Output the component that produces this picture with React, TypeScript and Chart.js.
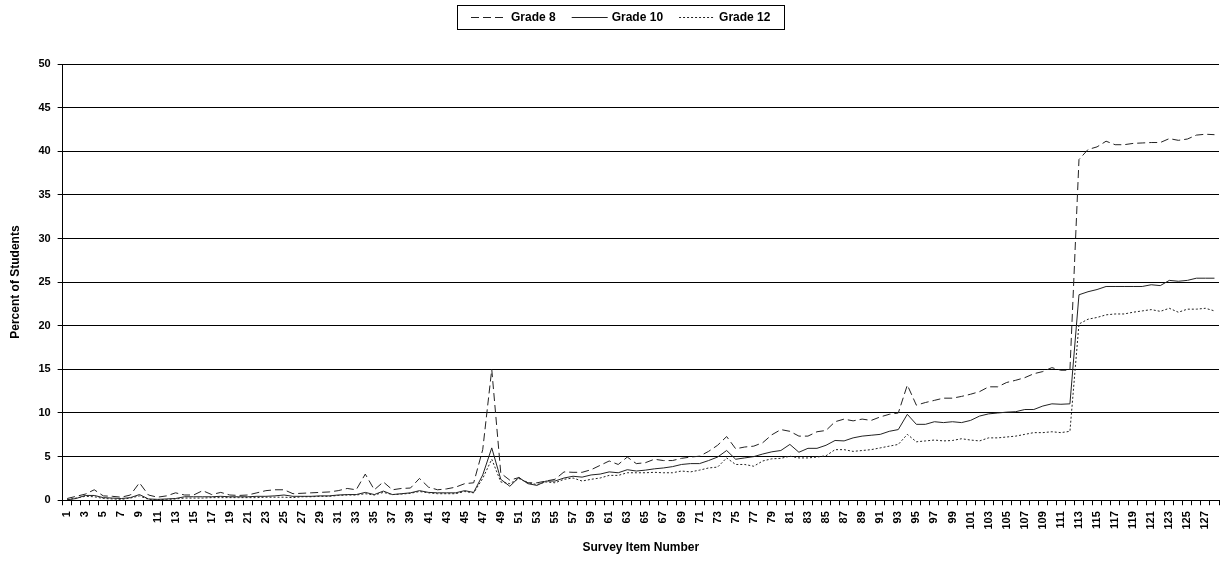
import React, { useEffect, useRef } from "react";
import { Chart, registerables } from "chart.js";

Chart.register(...registerables);

const itemNumbers: string[] = Array.from({ length: 128 }, (_, i) => String(i + 1));

const grade8: number[] = [
  0.2, 0.45, 0.7, 1.2, 0.5, 0.45, 0.35, 0.6, 2.0, 0.6, 0.35, 0.5, 0.85, 0.6, 0.6, 1.1, 0.65, 0.9, 0.6, 0.55, 0.6, 0.85, 1.1, 1.2, 1.2,
  0.75, 0.8, 0.85, 0.9, 0.95, 1.1, 1.35, 1.2, 3.0, 1.2, 2.1, 1.2, 1.35, 1.4, 2.5, 1.5, 1.2, 1.3, 1.5, 1.9, 2.0, 5.8, 15.0, 3.1, 2.3,
  2.6, 2.0, 2.0, 2.2, 2.4, 3.25, 3.2, 3.2, 3.5, 4.0, 4.5, 4.1, 4.95, 4.2, 4.3, 4.7, 4.55, 4.55, 4.8, 4.95, 5.05, 5.6, 6.3, 7.3, 5.9,
  6.1, 6.2, 6.6, 7.5, 8.1, 7.9, 7.35, 7.35, 7.85, 8.0, 9.0, 9.3, 9.1, 9.3, 9.15, 9.55, 9.85, 10.0, 13.2, 10.9, 11.2, 11.45, 11.7, 11.7, 11.9,
  12.15, 12.45, 13.0, 13.0, 13.5, 13.75, 14.05, 14.5, 14.75, 15.2, 14.9, 14.9, 39.05, 40.2, 40.5, 41.15, 40.75, 40.75, 40.9, 40.95, 41.0, 41.0, 41.45, 41.25, 41.4, 41.85, 41.95, 41.9,
];

const grade10: number[] = [
  0.05, 0.2, 0.55, 0.55, 0.3, 0.25, 0.2, 0.3, 0.65, 0.15, 0.1, 0.15, 0.2, 0.4, 0.4, 0.4, 0.4, 0.45, 0.4, 0.4, 0.4, 0.45, 0.45, 0.5, 0.6,
  0.45, 0.45, 0.45, 0.5, 0.5, 0.6, 0.65, 0.65, 0.9, 0.65, 1.05, 0.65, 0.75, 0.85, 1.1, 0.9, 0.85, 0.85, 0.85, 1.1, 0.9, 2.9, 6.0, 2.4, 1.6,
  2.6, 1.9, 1.7, 2.2, 2.2, 2.55, 2.75, 2.65, 2.9, 3.0, 3.25, 3.15, 3.5, 3.35, 3.45, 3.6, 3.7, 3.85, 4.1, 4.2, 4.2, 4.55, 4.95, 5.7, 4.7,
  4.85, 5.0, 5.3, 5.55, 5.7, 6.4, 5.5, 5.95, 5.95, 6.3, 6.85, 6.8, 7.15, 7.35, 7.45, 7.55, 7.9, 8.1, 9.85, 8.7, 8.7, 9.0, 8.9, 9.0, 8.9,
  9.15, 9.65, 9.9, 10.0, 10.1, 10.15, 10.4, 10.4, 10.8, 11.05, 11.0, 11.05, 23.55, 23.9, 24.15, 24.5, 24.5, 24.5, 24.5, 24.5, 24.7, 24.6, 25.2, 25.1, 25.2, 25.45, 25.45, 25.45,
];

const grade12: number[] = [
  0.05, 0.25, 0.45, 0.4, 0.2, 0.15, 0.1, 0.25, 0.5, 0.1, 0.05, 0.1, 0.15, 0.25, 0.25, 0.25, 0.3, 0.3, 0.3, 0.3, 0.3, 0.3, 0.35, 0.35, 0.35,
  0.3, 0.4, 0.4, 0.45, 0.45, 0.55, 0.6, 0.6, 0.75, 0.6, 0.9, 0.65, 0.7, 0.8, 1.0, 0.85, 0.75, 0.75, 0.75, 1.0, 0.85, 2.5, 4.7, 2.1, 1.9,
  2.5, 2.0, 1.8, 2.1, 2.0, 2.4, 2.55, 2.2, 2.4, 2.55, 2.85, 2.85, 3.15, 3.15, 3.15, 3.2, 3.15, 3.15, 3.35, 3.25, 3.45, 3.7, 3.8, 4.85, 4.1,
  4.1, 3.9, 4.5, 4.75, 4.8, 5.05, 4.85, 4.85, 4.95, 5.1, 5.8, 5.8, 5.6, 5.7, 5.8, 6.0, 6.2, 6.4, 7.55, 6.7, 6.8, 6.9, 6.8, 6.85, 7.05,
  6.9, 6.8, 7.15, 7.15, 7.25, 7.35, 7.55, 7.75, 7.75, 7.85, 7.75, 7.9, 20.2, 20.75, 20.95, 21.25, 21.35, 21.35, 21.55, 21.7, 21.85, 21.65, 22.0, 21.55, 21.9, 21.9, 22.0, 21.7,
];

const seriesNames: string[] = ["Grade 8", "Grade 10", "Grade 12"];

const FONT = '"Liberation Sans", Arial, Helvetica, sans-serif';

const legendBoxPlugin = {
  id: "legendBox",
  afterDraw(chart: any) {
    const ctx = chart.ctx as CanvasRenderingContext2D;
    const datasets = chart.data.datasets;
    ctx.save();
    ctx.font = `bold 12px ${FONT}`;
    const sample = 36;
    const gapText = 4;
    const gapItem = 16;
    const pad = 14;
    const widths = datasets.map((ds: any) => sample + gapText + ctx.measureText(ds.label).width);
    const total = widths.reduce((a: number, b: number) => a + b, 0) + gapItem * (datasets.length - 1) + pad * 2;
    const left = Math.round(chart.width / 2 + 9 - total / 2);
    const top = 5;
    const height = 24;
    ctx.strokeStyle = "#000";
    ctx.lineWidth = 1;
    ctx.strokeRect(left + 0.5, top + 0.5, Math.round(total), height);
    const cy = top + height / 2 + 0.5;
    let x = left + pad;
    datasets.forEach((ds: any, i: number) => {
      ctx.setLineDash(ds.borderDash || []);
      ctx.strokeStyle = ds.borderColor;
      ctx.lineWidth = 1;
      ctx.beginPath();
      ctx.moveTo(x, Math.floor(cy) + 0.5);
      ctx.lineTo(x + sample, Math.floor(cy) + 0.5);
      ctx.stroke();
      ctx.setLineDash([]);
      ctx.fillStyle = "#000";
      ctx.textBaseline = "middle";
      ctx.textAlign = "left";
      ctx.fillText(ds.label, x + sample + gapText, cy);
      x += widths[i] + gapItem;
    });
    ctx.restore();
  },
};

export default function App() {
  const canvasRef = useRef<HTMLCanvasElement | null>(null);

  useEffect(() => {
    const canvas = canvasRef.current;
    if (!canvas) return;
    const chart = new Chart(canvas, {
      type: "line",
      data: {
        labels: itemNumbers,
        datasets: [
          {
            label: seriesNames[0],
            data: grade8,
            borderColor: "#222",
            borderWidth: 1,
            borderDash: [8, 4],
            pointRadius: 0,
            tension: 0,
            fill: false,
          },
          {
            label: seriesNames[1],
            data: grade10,
            borderColor: "#222",
            borderWidth: 1,
            pointRadius: 0,
            tension: 0,
            fill: false,
          },
          {
            label: seriesNames[2],
            data: grade12,
            borderColor: "#222",
            borderWidth: 1,
            borderDash: [2, 2],
            pointRadius: 0,
            tension: 0,
            fill: false,
          },
        ],
      },
      options: {
        animation: false,
        responsive: false,
        maintainAspectRatio: false,
        layout: { padding: { top: 64, right: 5, left: 0, bottom: 0 } },
        plugins: {
          legend: { display: false },
          tooltip: { enabled: false },
        },
        scales: {
          x: {
            type: "category",
            offset: true,
            afterFit: (scale: any) => {
              scale.paddingLeft = 0;
              scale.paddingRight = 0;
            },
            grid: {
              offset: true,
              drawOnChartArea: false,
              color: "#000",
              tickLength: 5,
              lineWidth: 1,
            },
            border: { color: "#000", width: 1 },
            ticks: {
              autoSkip: false,
              maxRotation: 90,
              minRotation: 90,
              padding: 6,
              color: "#000",
              font: { family: FONT, size: 11, weight: "bold" },
              callback: (_v: any, i: number) => (i % 2 === 0 ? itemNumbers[i] : ""),
            },
            title: {
              display: true,
              text: "Survey Item Number",
              color: "#000",
              font: { family: FONT, size: 12, weight: "bold" },
              padding: { top: 5, bottom: 6 },
            },
          },
          y: {
            min: 0,
            max: 50,
            grid: { color: "#000", tickLength: 5, lineWidth: 1 },
            border: { color: "#000", width: 1 },
            ticks: {
              stepSize: 5,
              padding: 7,
              color: "#000",
              font: { family: FONT, size: 11, weight: "bold" },
            },
            title: {
              display: true,
              text: "Percent of Students",
              color: "#000",
              font: { family: FONT, size: 12, weight: "bold" },
              padding: { top: 8, bottom: 9 },
            },
          },
        },
      },
      plugins: [legendBoxPlugin],
    } as any);
    return () => chart.destroy();
  }, []);

  return (
    <div style={{ position: "absolute", left: 0, top: 0, width: 1224, height: 561, background: "#fff" }}>
      <canvas ref={canvasRef} width={1224} height={561} style={{ display: "block" }} />
    </div>
  );
}
